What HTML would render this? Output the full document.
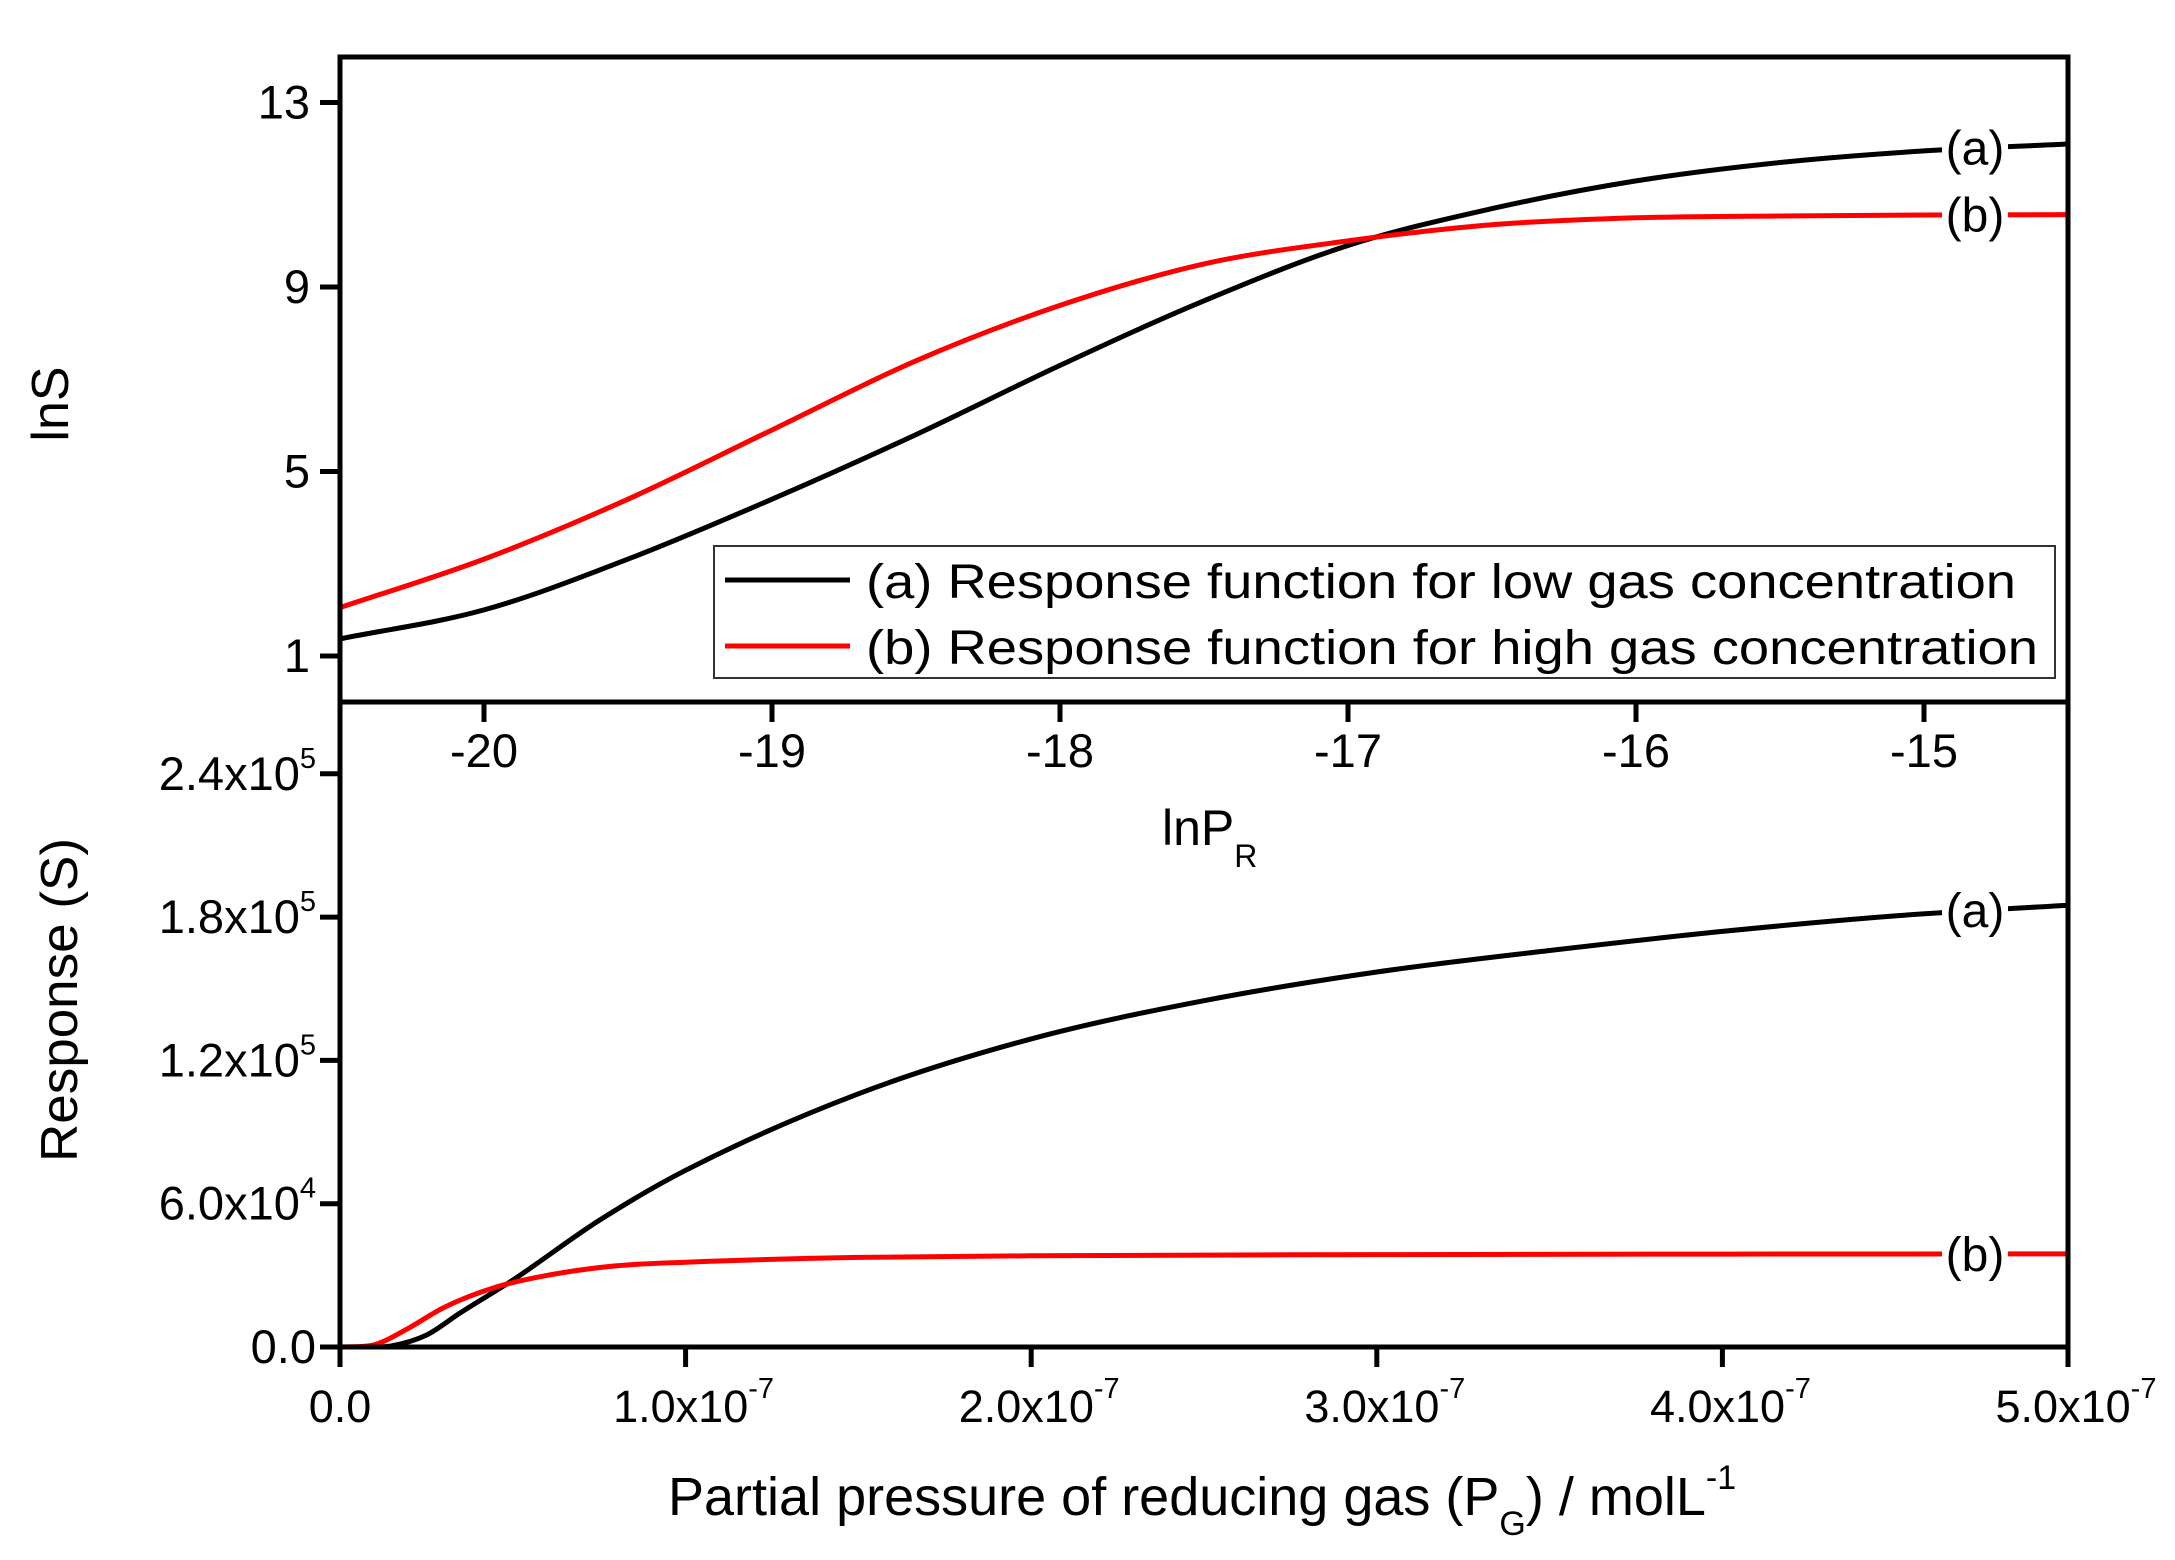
<!DOCTYPE html>
<html><head><meta charset="utf-8">
<style>
html,body{margin:0;padding:0;background:#fff;}
svg{display:block;font-family:"Liberation Sans",Arial,sans-serif;}
</style></head>
<body>
<svg id="chart" width="2175" height="1560" viewBox="0 0 2175 1560" xmlns="http://www.w3.org/2000/svg">
<rect x="0" y="0" width="2175" height="1560" fill="#fff"/>
<g id="topPanel"></g>
<g id="botPanel"></g>
<g id="frame"></g>
</svg>
<script>
// ---- top panel data (lnS vs lnP_R) ----
const topX = [-20.5, -20, -19.5, -19, -18.5, -18, -17.5, -17, -16.5, -16, -15.5, -15, -14.5];
const topA = [1.37, 2.0, 3.1, 4.4, 5.8, 7.3, 8.7, 9.9, 10.7, 11.3, 11.7, 11.95, 12.1];
const topB = [2.05, 3.1, 4.4, 5.9, 7.4, 8.6, 9.5, 10.0, 10.35, 10.5, 10.54, 10.56, 10.57];
const topYTicks = [1, 5, 9, 13];
const topXTicks = [-20, -19, -18, -17, -16, -15];
// ---- bottom panel data (S vs P_G) ----
const botX = [0, 0.1e-7, 0.15e-7, 0.25e-7, 0.35e-7, 0.5e-7, 0.75e-7, 1e-7, 1.5e-7, 2e-7, 2.5e-7, 3e-7, 3.5e-7, 4e-7, 4.5e-7, 5e-7];
const botA = [0, 0, 500, 5000, 14500, 28000, 53000, 74000, 106000, 129000, 145000, 157000, 166000, 174000, 180500, 185000];
const botXB = [0, 0.1e-7, 0.2e-7, 0.3e-7, 0.45e-7, 0.6e-7, 0.8e-7, 1e-7, 1.5e-7, 2e-7, 3e-7, 4e-7, 5e-7];
const botB = [0, 1000, 8000, 16500, 25000, 30000, 34000, 35500, 37500, 38200, 38700, 38900, 39000];
const botYTicks = [0, 60000, 120000, 180000, 240000];
const botYLabels = [["0.0",""],["6.0x10","4"],["1.2x10","5"],["1.8x10","5"],["2.4x10","5"]];
const botXTicks = [0, 1e-7, 2e-7, 3e-7, 4e-7, 5e-7];
const botXLabels = [["0.0",""],["1.0x10","-7"],["2.0x10","-7"],["3.0x10","-7"],["4.0x10","-7"],["5.0x10","-7"]];

const NS="http://www.w3.org/2000/svg";
const L=340,R=2068,T=57,M=702,B=1347;
const tx=v=>L+(v+20.5)/6*(R-L);
const ty=v=>656-(v-1)/4*184.5;
const bx=v=>L+v/5e-7*(R-L);
const by=v=>B-v/60000*143.3;

function el(tag,attrs,parent){const e=document.createElementNS(NS,tag);for(const k in attrs)e.setAttribute(k,attrs[k]);parent.appendChild(e);return e;}

function smooth(xs,ys){
  const n=xs.length,d=[],m=[];
  for(let i=0;i<n-1;i++)d.push((ys[i+1]-ys[i])/(xs[i+1]-xs[i]));
  m[0]=d[0];m[n-1]=d[n-2];
  for(let i=1;i<n-1;i++)m[i]=(d[i-1]*d[i]<=0)?0:(d[i-1]+d[i])/2;
  for(let i=0;i<n-1;i++){if(d[i]===0){m[i]=0;m[i+1]=0;}}
  let s="M"+xs[0].toFixed(1)+","+ys[0].toFixed(1);
  for(let i=0;i<n-1;i++){const h=xs[i+1]-xs[i];
    s+=" C"+(xs[i]+h/3).toFixed(1)+","+(ys[i]+m[i]*h/3).toFixed(1)+" "+(xs[i+1]-h/3).toFixed(1)+","+(ys[i+1]-m[i+1]*h/3).toFixed(1)+" "+xs[i+1].toFixed(1)+","+ys[i+1].toFixed(1);}
  return s;
}

const gTop=document.getElementById('topPanel'),gBot=document.getElementById('botPanel'),frame=document.getElementById('frame');

const pa=el('path',{d:smooth(topX.map(tx),topA.map(ty)),fill:'none',stroke:'#000','stroke-width':5},gTop);


const pb=el('path',{d:smooth(topX.map(tx),topB.map(ty)),fill:'none',stroke:'#f00','stroke-width':5},gTop);


const qa=el('path',{d:smooth(botX.map(bx),botA.map(by)),fill:'none',stroke:'#000','stroke-width':5},gBot);


const qb=el('path',{d:smooth(botXB.map(bx),botB.map(by)),fill:'none',stroke:'#f00','stroke-width':5},gBot);



function curveLabel(txt,yv,name){
  const r=el('rect',{x:1942,y:yv-32,width:66,height:62,fill:'#fff'},frame);
  
  
  const t=el('text',{x:1975,y:yv+17,'font-size':48,'text-anchor':'middle'},frame);
  t.textContent=txt;
  
  
}
curveLabel('(a)',ty(topA[topA.length-2]+0.07),'label-a-top');
curveLabel('(b)',ty(topB[topB.length-1]),'label-b-top');
curveLabel('(a)',by(botA[botA.length-2]+2500),'label-a-bottom');
curveLabel('(b)',by(botB[botB.length-1]),'label-b-bottom');

const fr=el('rect',{x:L,y:T,width:R-L,height:B-T,fill:'none',stroke:'#000','stroke-width':5},frame);


const sep=el('line',{x1:L,x2:R,y1:M,y2:M,stroke:'#000','stroke-width':5},frame);



topYTicks.forEach(v=>{
  const tk=el('line',{x1:L-20,x2:L,y1:ty(v),y2:ty(v),stroke:'#000','stroke-width':5},frame);
  
  
  const t=el('text',{x:L-30,y:ty(v)+16,'font-size':47,'text-anchor':'end'},frame);
  t.textContent=String(v);
  
  
});
topXTicks.forEach(v=>{
  const tk=el('line',{x1:tx(v),x2:tx(v),y1:M,y2:M+20,stroke:'#000','stroke-width':5},frame);
  
  
  const t=el('text',{x:tx(v),y:767,'font-size':47,'text-anchor':'middle'},frame);
  t.textContent=String(v);
  
  
});
botYTicks.forEach((v,i)=>{
  const tk=el('line',{x1:L-20,x2:L,y1:by(v),y2:by(v),stroke:'#000','stroke-width':5},frame);
  
  
  const t=el('text',{x:L-24,y:by(v)+16,'font-size':47,'text-anchor':'end'},frame);
  
  
  const a=el('tspan',{},t);a.textContent=botYLabels[i][0];
  if(botYLabels[i][1]){const s=el('tspan',{dy:-22,'font-size':29},t);s.textContent=botYLabels[i][1];}
});
botXTicks.forEach((v,i)=>{
  const tk=el('line',{x1:bx(v),x2:bx(v),y1:B,y2:B+20,stroke:'#000','stroke-width':5},frame);
  
  
  const t=el('text',{x:bx(v)+(botXLabels[i][1]?8:0),y:1422,'font-size':45,'text-anchor':'middle'},frame);
  
  
  const a=el('tspan',{},t);a.textContent=botXLabels[i][0];
  if(botXLabels[i][1]){const s=el('tspan',{dy:-24,'font-size':29},t);s.textContent=botXLabels[i][1];}
});
</script>
<svg style="position:absolute;left:0;top:0" width="2175" height="1560" viewBox="0 0 2175 1560" xmlns="http://www.w3.org/2000/svg">
<g font-family="Liberation Sans, Arial, sans-serif">
<text x="68" y="404" font-size="52" text-anchor="middle" transform="rotate(-90 68 404)">lnS</text>
<text x="77" y="1000" font-size="52" text-anchor="middle" transform="rotate(-90 77 1000)" textLength="324" lengthAdjust="spacingAndGlyphs">Response (S)</text>
<text x="1162" y="845" font-size="50">lnP<tspan dy="22" font-size="32">R</tspan></text>
<text x="668" y="1515" font-size="54">Partial pressure of reducing gas (P<tspan dy="20" font-size="34">G</tspan><tspan dy="-20">) / molL</tspan><tspan dy="-26" font-size="34">-1</tspan></text>
<g>
<rect x="714" y="546" width="1341" height="132" fill="#fff" stroke="#333" stroke-width="2"/>
<line x1="725" x2="850" y1="580" y2="580" stroke="#000" stroke-width="5"/>
<text x="866" y="598" font-size="48" textLength="1150" lengthAdjust="spacingAndGlyphs">(a) Response function for low gas concentration</text>
<line x1="725" x2="850" y1="646" y2="646" stroke="#f00" stroke-width="5"/>
<text x="866" y="664" font-size="48" textLength="1172" lengthAdjust="spacingAndGlyphs">(b) Response function for high gas concentration</text>
</g>
</g>
</svg>
</body></html>
